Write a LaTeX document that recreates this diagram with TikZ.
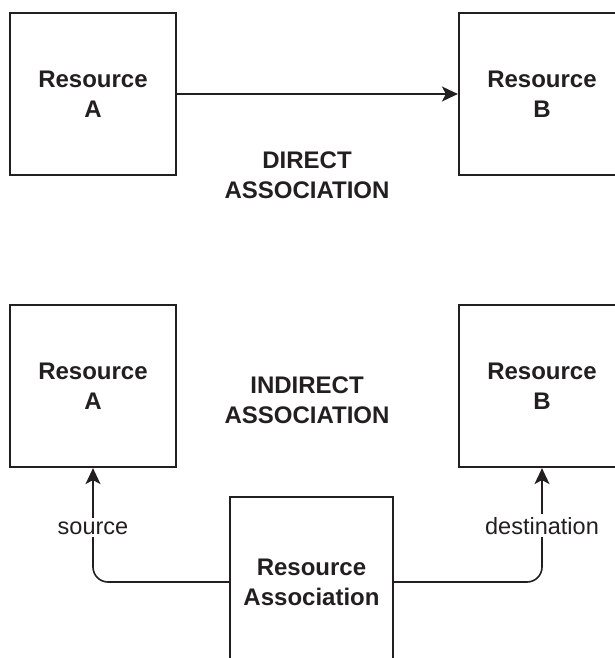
\documentclass[tikz,border=0pt]{standalone}
\usepackage{fontspec}
\setmainfont{Liberation Sans}
\usetikzlibrary{arrows.meta}
\definecolor{ink}{HTML}{231F20}
\begin{document}
\begin{tikzpicture}[x=1pt,y=-1pt,
  resbox/.style={draw=ink,line width=2.2pt,rectangle,minimum width=166pt,minimum height=162pt,
    align=center,font=\fontsize{24}{30}\selectfont\bfseries,text=ink,inner sep=0pt},
  title/.style={align=center,font=\fontsize{24}{30}\selectfont\bfseries,text=ink},
  conn/.style={draw=ink,line width=1.6pt,-{Stealth[length=16pt,width=15pt,inset=4pt]}},
  lbl/.style={fill=white,font=\fontsize{23.5}{30}\selectfont,text=ink,inner sep=3pt,anchor=base}]
\useasboundingbox (0,0) rectangle (615,658);
\clip (0,0) rectangle (615,658);
% direct association
\node[resbox] (a1) at (93,94) {Resource\\A};
\node[resbox] (b1) at (542,94) {Resource\\B};
\draw[conn] (a1.east) -- (b1.west);
\node[title] (t1) at (307,175) {DIRECT\\ASSOCIATION};
% indirect association
\node[resbox] (a2) at (93,386) {Resource\\A};
\node[resbox] (b2) at (542,386) {Resource\\B};
\node[title] (t2) at (307,400) {INDIRECT\\ASSOCIATION};
\node[resbox,minimum width=163pt,minimum height=170pt] (ra) at (311.5,582) {Resource\\Association};
\draw[conn,rounded corners=15pt] (ra.west) -| (a2.south);
\draw[conn,rounded corners=15pt] (ra.east) -| (b2.south);
\node[lbl] (src) at (93,534) {source};
\node[lbl] (dst) at (542,534) {destination};
\end{tikzpicture}
\end{document}
